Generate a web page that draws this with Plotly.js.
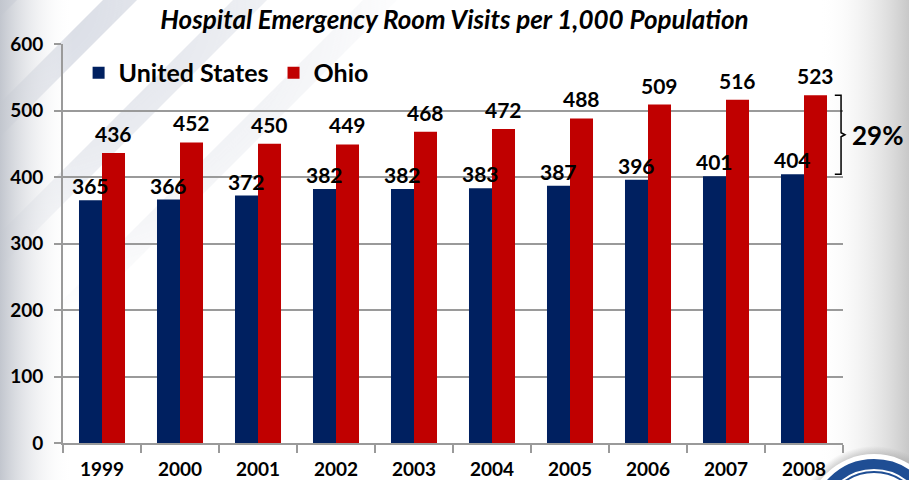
<!DOCTYPE html>
<html>
<head>
<meta charset="utf-8">
<script src="https://cdn.plot.ly/plotly-3.0.1.min.js"></script>
<style>html,body{margin:0;padding:0;background:#fff;}#chart{width:909px;height:480px;}</style>
</head>
<body>
<div id="chart"></div>
<script>
// ---- data ----
const years = ["1999","2000","2001","2002","2003","2004","2005","2006","2007","2008"];
const usVisits = [365,366,372,382,382,383,387,396,401,404];
const ohioVisits = [436,452,450,449,468,472,488,509,516,523];
const seriesNames = ["United States","Ohio"];
const titleText = "Hospital Emergency Room Visits per 1,000 Population";
const yTicks = [0,100,200,300,400,500,600];

const NAVY = "#002060", RED = "#c00000", GRID = "#9a9a9a";
const FONT = "Lato, 'Open Sans', sans-serif";

// background decoration (gradient edges + diagonal stripes + seal)
const bgSvg = `<svg xmlns="http://www.w3.org/2000/svg" width="909" height="480" viewBox="0 0 909 480">
<defs>
<linearGradient id="lg" x1="0" y1="0" x2="1" y2="0">
<stop offset="0" stop-color="#c2c6ce"/><stop offset="0.08" stop-color="#ffffff" stop-opacity="0"/></linearGradient>
<linearGradient id="rg" x1="0" y1="0" x2="1" y2="0">
<stop offset="0.9" stop-color="#ffffff" stop-opacity="0"/><stop offset="1" stop-color="#c8c8c8"/></linearGradient>
<radialGradient id="mg" cx="0" cy="0" r="1" gradientUnits="userSpaceOnUse" gradientTransform="translate(0 0) scale(420 320)">
<stop offset="0" stop-color="#fff"/><stop offset="1" stop-color="#000"/></radialGradient>
<mask id="m"><rect width="909" height="480" fill="url(#mg)"/></mask>
<radialGradient id="sh" cx="0.5" cy="0.5" r="0.5">
<stop offset="0.85" stop-color="#999" stop-opacity="0.6"/><stop offset="1" stop-color="#999" stop-opacity="0"/></radialGradient>
</defs>
<rect width="909" height="480" fill="#ffffff"/>
<g mask="url(#m)" stroke="#b6bdcd" stroke-width="24" stroke-opacity="0.6">
<line x1="-200" y1="200" x2="200" y2="-200"/>
<line x1="-180" y1="300" x2="300" y2="-180"/>
<line x1="-150" y1="400" x2="400" y2="-150"/>
<line x1="-120" y1="500" x2="500" y2="-120"/>
</g>
<rect width="909" height="480" fill="url(#lg)"/>
<rect width="909" height="480" fill="url(#rg)"/>
<circle cx="874" cy="522" r="76" fill="url(#sh)"/>
<circle cx="874" cy="522" r="68" fill="#ffffff"/>
<circle cx="874" cy="522" r="58" fill="none" stroke="#1f4e94" stroke-width="10"/>
<circle cx="874" cy="522" r="50" fill="none" stroke="#1f4e94" stroke-width="2"/>
</svg>`;
const bgSrc = "data:image/svg+xml;charset=utf-8," + encodeURIComponent(bgSvg);

const traces = [
  {type:"bar", name:seriesNames[0], x:years, y:usVisits, marker:{color:NAVY}, hoverinfo:"x+y+name"},
  {type:"bar", name:seriesNames[1], x:years, y:ohioVisits, marker:{color:RED}, hoverinfo:"x+y+name"}
];

// value labels as annotations so US labels sit above the neighbouring Ohio bars
const annotations = [];
const OFF = 11.5;
years.forEach((yr,i)=>{
  annotations.push({x:i, y:usVisits[i], xref:"x", yref:"y", text:String(usVisits[i]), showarrow:false,
    xshift:-OFF, yshift:0, yanchor:"bottom", font:{family:FONT, size:21, color:"#000", weight:700}});
  annotations.push({x:i, y:ohioVisits[i], xref:"x", yref:"y", text:String(ohioVisits[i]), showarrow:false,
    xshift:OFF, yshift:5, yanchor:"bottom", font:{family:FONT, size:21, color:"#000", weight:700}});
});
const last = years.length-1;
const hi = ohioVisits[last], lo = usVisits[last];
const pct = Math.round((hi-lo)/lo*100);
annotations.push({x:1.009, xref:"paper", y:(hi+lo)/2, yref:"y", xanchor:"left", yanchor:"middle",
  text:pct+"%", showarrow:false, font:{family:FONT, size:26, color:"#000", weight:700}});

const mid = (hi+lo)/2;
const bx0 = 0.9895, bx1 = 0.9975, bx2 = 1.0025;
const bracePath = `M ${bx0},${hi} L ${bx1},${hi} L ${bx1},${mid+3} L ${bx2},${mid} L ${bx1},${mid-3} L ${bx1},${lo} L ${bx0},${lo}`;

const layout = {
  width:909, height:480,
  margin:{l:63, r:66, t:44, b:37},
  paper_bgcolor:"rgba(0,0,0,0)",
  plot_bgcolor:"rgba(0,0,0,0)",
  barmode:"group", bargap:0.41, bargroupgap:0,
  font:{family:FONT, color:"#000"},
  title:{text:titleText, x:0.5, xanchor:"center", y:0.958, yanchor:"middle",
    font:{family:FONT, size:26, color:"#000", weight:700, style:"italic"}},
  showlegend:true,
  legend:{orientation:"h", x:0.02, y:0.985, xanchor:"left", yanchor:"top",
    font:{family:FONT, size:25, color:"#000", weight:700}, bgcolor:"rgba(0,0,0,0)",
    itemwidth:30, tracegroupgap:0, itemclick:false},
  xaxis:{type:"category", range:[-0.5, years.length-0.5], showline:true, linecolor:GRID, linewidth:2,
    ticks:"outside", tickson:"boundaries", ticklen:8, tickcolor:GRID, tickwidth:2, ticklabelstandoff:8,
    tickfont:{family:FONT, size:19, color:"#000", weight:700}, showgrid:false, fixedrange:true},
  yaxis:{range:[0,600], tickvals:yTicks, showline:true, linecolor:GRID, linewidth:2,
    ticks:"outside", ticklen:7, tickcolor:GRID, tickwidth:2, ticklabelstandoff:7,
    gridcolor:GRID, gridwidth:1.5, zeroline:false,
    tickfont:{family:FONT, size:19, color:"#000", weight:700}, fixedrange:true},
  annotations:annotations,
  shapes:[{type:"path", xref:"paper", yref:"y", path:bracePath, line:{color:"#000", width:1.5}}],
  images:[{source:bgSrc, xref:"paper", yref:"paper", x:-63/780, y:1+44/399, sizex:909/780, sizey:480/399,
    sizing:"stretch", layer:"below", xanchor:"left", yanchor:"top"}]
};

Plotly.newPlot("chart", traces, layout, {displayModeBar:false});
</script>
</body>
</html>
